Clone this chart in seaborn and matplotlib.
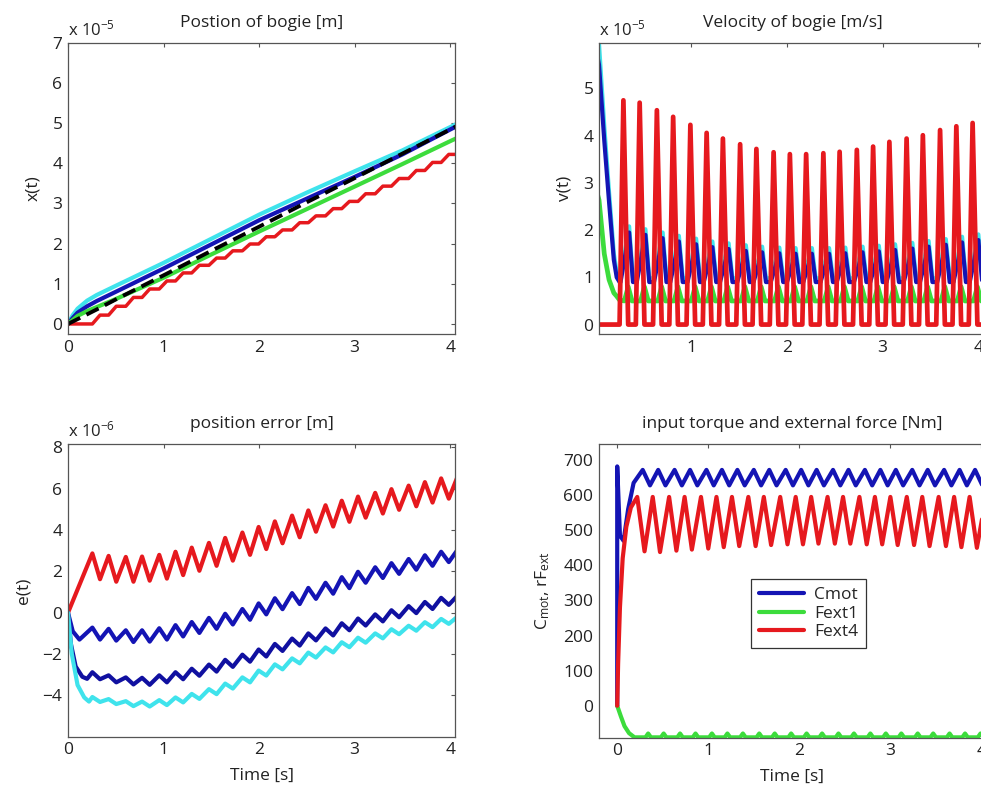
import matplotlib
matplotlib.use("Agg")
import matplotlib.pyplot as plt
import seaborn as sns

# ------------------------------------------------------------------ data
# instants of the velocity pulses (s)
cycle_t = [0.29, 0.46, 0.64, 0.81, 0.99, 1.16, 1.33, 1.51, 1.68, 1.86, 2.03,
           2.20, 2.38, 2.55, 2.73, 2.90, 3.07, 3.25, 3.42, 3.60, 3.77, 3.94, 4.12]

# --- Position of bogie (x 1e-5 m)
pos_t     = [0, 0.05, 0.10, 0.20, 0.30, 0.50, 1.00, 1.50, 2.00, 2.50, 3.00, 3.50, 4.00, 4.10]
pos_cyan  = [0, 0.22, 0.38, 0.58, 0.72, 0.95, 1.52, 2.12, 2.72, 3.27, 3.80, 4.32, 4.90, 5.02]
pos_blue  = [0, 0.15, 0.28, 0.44, 0.57, 0.80, 1.38, 1.98, 2.58, 3.12, 3.66, 4.22, 4.84, 4.96]
pos_ref   = [0, 0.06, 0.12, 0.24, 0.36, 0.61, 1.21, 1.82, 2.42, 3.03, 3.63, 4.24, 4.84, 4.96]
pos_green = [0, 0.10, 0.20, 0.32, 0.42, 0.62, 1.15, 1.73, 2.30, 2.86, 3.42, 3.98, 4.55, 4.66]
pos_red_steps = [0.22, 0.44, 0.66, 0.87, 1.07, 1.27, 1.46, 1.64, 1.82, 1.99, 2.17,
                 2.34, 2.52, 2.69, 2.87, 3.05, 3.24, 3.43, 3.62, 3.82, 4.02, 4.22, 4.42]

# --- Velocity of bogie (x 1e-5 m/s)
vel_start_t     = [0, 0.035, 0.09, 0.14, 0.19, 0.22, 0.25]
vel_cyan_start  = [6.30, 5.95, 4.20, 2.80, 1.50, 1.10, 0.98]
vel_blue_start  = [5.90, 5.50, 3.90, 2.60, 1.37, 1.00, 0.90]
vel_green_start = [2.90, 2.64, 1.50, 0.95, 0.67, 0.60, 0.52]
vel_red_peak  = [4.75, 4.70, 4.54, 4.40, 4.23, 4.06, 3.94, 3.82, 3.72, 3.65, 3.61,
                 3.61, 3.63, 3.66, 3.70, 3.77, 3.87, 3.94, 4.01, 4.12, 4.20, 4.27, 4.33]
vel_cyan_peak = [2.08, 2.02, 1.95, 1.88, 1.82, 1.76, 1.72, 1.68, 1.65, 1.63, 1.62,
                 1.62, 1.62, 1.63, 1.65, 1.67, 1.70, 1.73, 1.77, 1.81, 1.86, 1.91, 1.95]
vel_blue_peak = [1.95, 1.90, 1.83, 1.76, 1.70, 1.64, 1.60, 1.56, 1.53, 1.51, 1.50,
                 1.50, 1.50, 1.51, 1.53, 1.55, 1.58, 1.61, 1.65, 1.69, 1.74, 1.79, 1.83]
vel_cyan_low = 0.98
vel_blue_low = 0.90
vel_green_peak = 0.80
vel_green_low = 0.50

# --- position error (x 1e-6 m)
err_red_peak   = [2.87, 2.75, 2.70, 2.72, 2.80, 2.95, 3.15, 3.38, 3.62, 3.88, 4.15,
                  4.42, 4.70, 4.95, 5.20, 5.42, 5.62, 5.80, 5.98, 6.15, 6.32, 6.50, 6.68]
err_red_trough = [1.62, 1.50, 1.50, 1.55, 1.65, 1.82, 2.03, 2.27, 2.52, 2.80, 3.08,
                  3.36, 3.65, 3.92, 4.17, 4.40, 4.60, 4.80, 4.98, 5.15, 5.33, 5.52, 5.70]
err_bu_start_t = [0, 0.05, 0.12]
err_bu_start   = [0, -0.90, -1.30]
err_bu_peak    = [-0.72, -0.78, -0.85, -0.85, -0.75, -0.60, -0.45, -0.25, -0.05, 0.18, 0.45,
                  0.70, 0.95, 1.20, 1.45, 1.72, 1.98, 2.20, 2.40, 2.60, 2.78, 2.95, 3.10]
err_bu_trough  = [-1.30, -1.35, -1.42, -1.40, -1.30, -1.15, -0.98, -0.78, -0.57, -0.34, -0.08,
                  0.17, 0.42, 0.67, 0.92, 1.19, 1.45, 1.68, 1.88, 2.08, 2.27, 2.45, 2.60]
err_bl_start_t = [0, 0.03, 0.08, 0.15, 0.20]
err_bl_start   = [0, -1.50, -2.60, -3.10, -3.20]
err_bl_peak    = [-2.88, -3.03, -3.13, -3.15, -3.03, -2.88, -2.71, -2.51, -2.28, -2.03, -1.78,
                  -1.51, -1.25, -1.00, -0.76, -0.51, -0.28, -0.08, 0.12, 0.32, 0.52, 0.72, 0.87]
err_bl_trough  = [-3.22, -3.37, -3.47, -3.49, -3.37, -3.22, -3.05, -2.85, -2.62, -2.37, -2.12,
                  -1.85, -1.59, -1.34, -1.10, -0.85, -0.62, -0.42, -0.22, -0.02, 0.18, 0.38, 0.53]
err_cy_start_t = [0, 0.04, 0.10, 0.17, 0.22]
err_cy_start   = [0, -2.00, -3.50, -4.10, -4.30]
err_cy_peak    = [-4.08, -4.18, -4.28, -4.30, -4.23, -4.10, -3.93, -3.70, -3.43, -3.13, -2.80,
                  -2.50, -2.21, -1.93, -1.68, -1.43, -1.21, -1.00, -0.80, -0.63, -0.46, -0.30, -0.16]
err_cy_trough  = [-4.32, -4.42, -4.52, -4.54, -4.47, -4.34, -4.17, -3.94, -3.67, -3.37, -3.04,
                  -2.74, -2.45, -2.17, -1.92, -1.67, -1.45, -1.24, -1.04, -0.87, -0.70, -0.54, -0.40]

# --- input torque and external force (Nm)
tq_labels = ["Cmot", "Fext1", "Fext4"]
tq_blue_start_t  = [0, 0, 0.03, 0.07, 0.12, 0.18]
tq_blue_start    = [0, 682, 485, 470, 560, 635]
tq_blue_peak     = 672
tq_blue_trough   = 628
tq_red_start_t   = [0, 0.01, 0.03, 0.06, 0.10, 0.15]
tq_red_start     = [0, 120, 280, 420, 510, 565]
tq_red_peak      = 595
tq_red_trough    = [440, 438, 442, 445, 448, 452, 455, 455, 458, 460, 460,
                    462, 462, 462, 460, 460, 458, 458, 455, 455, 452, 450, 450]
tq_green_start_t = [0, 0.04, 0.08, 0.13, 0.19]
tq_green_start   = [0, -30, -58, -78, -90]
tq_green_bump    = -79
tq_green_base    = -90

# ------------------------------------------------------------------ style
sns.set_style("white")
plt.rcParams["font.family"] = ["Open Sans", "DejaVu Sans"]
plt.rcParams["mathtext.fontset"] = "custom"
plt.rcParams["mathtext.rm"] = "Open Sans"
plt.rcParams["mathtext.it"] = "Open Sans"

C_CYAN = "#3fe3ec"
C_BLUE = "#1414b4"
C_GREEN = "#3cdc3c"
C_RED = "#e6191e"
LW = 3.0
FS = 12.5
TXT = "#222222"

fig = plt.figure(figsize=(9.81, 7.90), dpi=100)
W, H = 981, 790


def add_ax(left, top, right, bottom):
    return fig.add_axes([left / W, 1 - bottom / H, (right - left) / W, (bottom - top) / H])


ax1 = add_ax(68, 42.7, 455, 334)
ax2 = add_ax(599, 42.7, 986, 334)
ax3 = add_ax(68, 444.3, 455, 736.7)
ax4 = add_ax(599, 444.3, 986, 737.7)


def line(ax, x, y, color, **kw):
    sns.lineplot(x=x, y=y, ax=ax, color=color, linewidth=kw.pop("lw", LW),
                 estimator=None, sort=False, **kw)


# ---- panel 1: position
line(ax1, pos_t, pos_cyan, C_CYAN)
line(ax1, pos_t, pos_blue, C_BLUE)
line(ax1, pos_t, pos_green, C_GREEN)
rt, rx, prev = [0, cycle_t[0] - 0.035], [0, 0], 0
for tp, lv in zip(cycle_t, pos_red_steps):
    rt += [tp - 0.035, tp + 0.045]
    rx += [prev, lv]
    prev = lv
line(ax1, rt, rx, C_RED, lw=2.5)
line(ax1, pos_t, pos_ref, "black", lw=2.8, linestyle=(0, (3.5, 1.8)))

# ---- panel 2: velocity
for start, peak, low, col in [(vel_cyan_start, vel_cyan_peak, vel_cyan_low, C_CYAN),
                              (vel_blue_start, vel_blue_peak, vel_blue_low, C_BLUE)]:
    vt, vv = list(vel_start_t), list(start)
    for tp, pk in zip(cycle_t, peak):
        vt += [tp - 0.03, tp + 0.06, tp + 0.10]
        vv += [low, pk, low]
    line(ax2, vt, vv, col)
vt, vv = list(vel_start_t), list(vel_green_start)
for tp in cycle_t:
    vt += [tp + 0.01, tp + 0.05, tp + 0.09]
    vv += [vel_green_low, vel_green_peak, vel_green_low]
line(ax2, vt, vv, C_GREEN, lw=3.4)
vt, vv = [0, cycle_t[0] - 0.04], [0, 0]
for tp, pk in zip(cycle_t, vel_red_peak):
    vt += [tp - 0.04, tp, tp + 0.05]
    vv += [0, pk, 0]
line(ax2, vt, vv, C_RED, lw=3.4)

# ---- panel 3: position error
for st_t, st, pk, tr, col in [([0], [0], err_red_peak, err_red_trough, C_RED),
                              (err_bu_start_t, err_bu_start, err_bu_peak, err_bu_trough, C_BLUE),
                              (err_bl_start_t, err_bl_start, err_bl_peak, err_bl_trough, "#1010a0"),
                              (err_cy_start_t, err_cy_start, err_cy_peak, err_cy_trough, C_CYAN)]:
    et, ev = list(st_t), list(st)
    for tp, p, q in zip(cycle_t, pk, tr):
        et += [tp - 0.035, tp + 0.045]
        ev += [p, q]
    line(ax3, et, ev, col)

# ---- panel 4: torque / force
tt, tv = list(tq_blue_start_t), list(tq_blue_start)
for tp in cycle_t:
    tt += [tp - 0.01, tp + 0.07]
    tv += [tq_blue_peak, tq_blue_trough]
line(ax4, tt, tv, C_BLUE, label=tq_labels[0])
tt, tv = list(tq_green_start_t), list(tq_green_start)
for tp in cycle_t:
    tt += [tp + 0.02, tp + 0.05, tp + 0.08]
    tv += [tq_green_base, tq_green_bump, tq_green_base]
line(ax4, tt, tv, C_GREEN, label=tq_labels[1])
tt, tv = list(tq_red_start_t), list(tq_red_start)
for tp, tr in zip(cycle_t, tq_red_trough):
    tt += [tp - 0.07, tp + 0.01]
    tv += [tq_red_peak, tr]
line(ax4, tt, tv, C_RED, label=tq_labels[2])

# ------------------------------------------------------------------ axes cosmetics
ax1.set(xlim=(0, 4.05), ylim=(-0.25, 7), xticks=[0, 1, 2, 3, 4], yticks=range(0, 8))
ax2.set(xlim=(0.035, 4.08), ylim=(-0.2, 5.97), xticks=[1, 2, 3, 4], yticks=range(0, 6))
ax3.set(xlim=(0, 4.05), ylim=(-6, 8.15), xticks=[0, 1, 2, 3, 4], yticks=range(-4, 9, 2))
ax4.set(xlim=(-0.2, 4.05), ylim=(-91, 745), xticks=[0, 1, 2, 3, 4], yticks=range(0, 701, 100))

titles = ["Postion of bogie [m]", "Velocity of bogie [m/s]",
          "position error [m]", "input torque and external force [Nm]"]
ylabels = ["x(t)", "v(t)", "e(t)", r"C$_{mot}$, rF$_{ext}$"]
offsets = [r"x 10$^{-5}$", r"x 10$^{-5}$", r"x 10$^{-6}$", None]
for ax, ttl, yl, off in zip([ax1, ax2, ax3, ax4], titles, ylabels, offsets):
    ax.set_title(ttl, fontsize=FS, pad=11.5, color=TXT)
    ax.set_ylabel(yl, fontsize=FS, color=TXT, labelpad=8)
    ax.set_xlabel("")
    ax.tick_params(direction="in", top=True, right=True, length=3, width=0.8,
                   labelsize=FS, colors="#555555", labelcolor=TXT, pad=4)
    for sp in ax.spines.values():
        sp.set_visible(True)
        sp.set_color("#555555")
        sp.set_linewidth(0.9)
    if off:
        ax.text(0.0, 1.012, off, transform=ax.transAxes, ha="left", va="bottom",
                fontsize=FS - 0.5, color=TXT)
    if ax.get_legend() is not None:
        ax.get_legend().remove()

for ax in (ax3, ax4):
    ax.set_xlabel("Time [s]", fontsize=FS, color=TXT, labelpad=7)

leg = ax4.legend(loc="upper left", bbox_to_anchor=(0.393, 0.541), fontsize=FS,
                 frameon=True, fancybox=False, framealpha=1, edgecolor="#333333",
                 handlelength=2.6, borderpad=0.45, labelspacing=0.15, handletextpad=0.6,
                 borderaxespad=0)
leg.get_frame().set_linewidth(0.9)

fig.savefig("out.png", dpi=100)
